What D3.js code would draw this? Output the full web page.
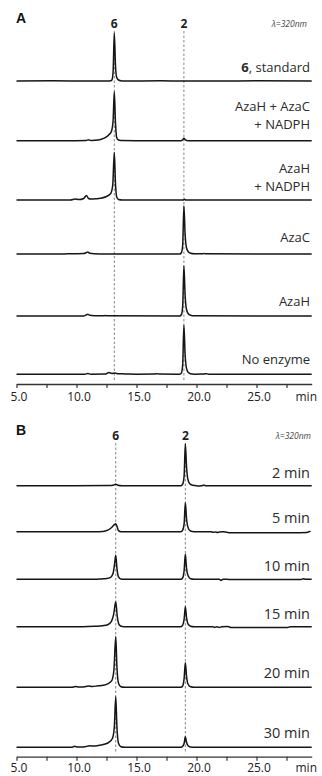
<!DOCTYPE html>
<html>
<head>
<meta charset="utf-8">
<script src="https://cdn.jsdelivr.net/npm/d3@7"></script>
<style>
  body { margin: 0; background: #fff; }
  svg { display: block; font-family: "Open Sans", sans-serif; }
</style>
</head>
<body>
<div id="chart"></div>
<script>
// Chromatogram data: [retention time (min), absorbance (a.u.)]

const xTicks = [5, 7.5, 10, 12.5, 15, 17.5, 20, 22.5, 25, 27.5];
const xTickLabels = ["5.0", "", "10.0", "", "15.0", "", "20.0", "", "25.0", ""];
const peakNames = ["6", "2"];
const peaksA = [13.15, 18.95];
const peaksB = [13.27, 19.07];

const labelsA = [["6, standard"], ["AzaH + AzaC", "+ NADPH"], ["AzaH", "+ NADPH"], ["AzaC"], ["AzaH"], ["No enzyme"]];
const labelsB = [["2 min"], ["5 min"], ["10 min"], ["15 min"], ["20 min"], ["30 min"]];

const standard6 = [[5,0],[8,0.3],[11,0],[12.6,0],[12.85,0.5],[12.95,2],[13.05,18],[13.15,96],[13.25,30],[13.35,7],[13.5,2],[13.7,0.6],[14,0],[17,0.3],[18.95,0],[22,0],[25,0.3],[29.6,0]];
const azaHazaCnadph = [[5,0],[9,0],[10.8,0.5],[11,1.8],[11.2,0.6],[11.5,1],[12,2.6],[12.4,6],[12.7,12],[12.9,18],[13.05,40],[13.15,98],[13.25,35],[13.35,6],[13.5,1.5],[13.8,0.3],[15,0],[18.7,0],[18.85,2],[18.95,5],[19.08,1.5],[19.3,0],[24,0],[29.6,0]];
const azaHnadph = [[5,0],[9.5,0],[9.9,2],[10.2,0.8],[10.6,3],[10.83,9],[11,3],[11.2,2],[11.6,2.5],[12,3.5],[12.5,7],[12.85,13],[13.02,30],[13.15,95],[13.25,32],[13.35,6],[13.5,1],[13.8,0],[18.9,0],[19,1.5],[19.1,0],[29.6,0]];
const azaC = [[5,0],[9,0],[9.5,0.6],[10.6,0.8],[10.8,2.5],[10.94,4],[11.1,1.5],[11.5,0.5],[12.5,0],[18.6,0],[18.75,3],[18.85,18],[18.95,96],[19.05,40],[19.15,14],[19.3,5],[19.5,1.5],[19.8,0.5],[20.5,0.5],[20.6,1.2],[20.75,0.4],[29.6,0]];
const azaH = [[5,0],[10.6,0],[10.8,2],[10.94,3.5],[11.1,1.5],[11.5,0.5],[12.2,0.3],[12.4,1],[12.6,0.3],[18.6,0],[18.75,3],[18.85,20],[18.95,100],[19.05,42],[19.15,15],[19.3,5],[19.5,1.5],[19.8,0.4],[29.6,0]];
const noEnzyme = [[5,0],[10.7,0],[10.94,1.5],[11.2,0.3],[12.4,0.5],[12.7,3.5],[12.95,1.8],[13.2,2.5],[13.5,1],[14,0.8],[15,0.3],[16.5,0.5],[16.7,1.3],[16.9,0.4],[18.6,0.3],[18.75,3],[18.85,20],[18.95,98],[19.05,40],[19.15,14],[19.3,4],[19.5,1.2],[19.8,0.3],[20.6,0.5],[20.8,1.3],[21,0.3],[29.6,0]];

const t2min = [[5,0],[9.8,0],[12.8,0.3],[13.1,1.5],[13.27,3],[13.45,1],[13.8,0],[18.7,0],[18.85,3],[18.97,20],[19.07,84],[19.17,38],[19.27,14],[19.4,5],[19.6,1.5],[19.9,0.2],[20.2,-0.6],[20.45,-0.3],[20.6,1.5],[20.75,-0.2],[21,0],[29.6,0]];
const t5min = [[5,0],[11.5,0],[12.2,0.5],[12.6,3],[12.95,9],[13.15,14],[13.27,16],[13.4,9],[13.5,2],[13.7,0],[18.7,0],[18.85,3],[18.97,16],[19.07,58],[19.17,26],[19.3,8],[19.5,1.5],[19.8,0],[21.2,0],[21.4,-1.2],[21.6,-0.5],[21.75,-1.5],[21.9,-0.8],[22.2,-0.3],[22.5,-1],[22.8,-2],[23.5,-2],[28,-2],[29.2,-1.5],[29.5,1]];
const t10min = [[5,0],[11.5,0],[12.1,0.8],[12.5,1.5],[12.85,4],[13.05,12],[13.17,30],[13.27,48],[13.37,22],[13.5,5],[13.7,0.5],[14,0],[18.7,0],[18.85,3],[18.97,18],[19.07,50],[19.17,22],[19.3,7],[19.5,1],[19.8,0],[21.9,0],[22.05,-2],[22.2,0],[22.5,0.3],[22.7,-0.5],[28.7,-0.5],[28.9,1],[29.1,0],[29.6,0]];
const t15min = [[5,0],[10.5,0],[11.5,0.8],[12.2,2],[12.6,4],[12.9,10],[13.1,25],[13.27,50],[13.4,20],[13.55,4],[13.8,0.5],[14.2,0],[18.7,0],[18.85,3],[18.97,15],[19.07,40],[19.17,18],[19.3,5],[19.5,1],[19.8,0],[21.4,0],[21.5,-1.5],[21.7,0],[21.9,-1.5],[22.1,-0.2],[22.6,0.3],[22.9,-1.5],[27.6,-1.5],[27.8,0],[29.6,0]];
const t20min = [[5,0],[9.6,0],[9.9,1.5],[10.2,0.5],[10.6,0.8],[11,2.5],[11.3,1.5],[11.8,3],[12.2,4],[12.6,7],[12.95,14],[13.12,35],[13.27,101],[13.37,40],[13.5,8],[13.7,1],[14,0],[18.7,0],[18.85,3],[18.97,18],[19.07,49],[19.17,22],[19.3,6],[19.5,1],[19.8,0],[29.6,0]];
const t30min = [[5,0],[9.6,0],[9.85,2],[10.1,0.5],[10.6,0.8],[11.1,3],[11.4,2.5],[11.9,4],[12.3,6],[12.7,10],[13,18],[13.15,40],[13.27,101],[13.37,40],[13.5,8],[13.7,1],[14,0],[18.7,0],[18.85,2],[18.97,8],[19.07,21],[19.17,10],[19.3,3],[19.5,0.5],[19.8,0],[29.6,0]];

const tracesA = [standard6, azaHazaCnadph, azaHnadph, azaC, azaH, noEnzyme];
const tracesB = [t2min, t5min, t10min, t15min, t20min, t30min];

// layout

const W = 322, H = 776;
const svg = d3.select("#chart").append("svg")
    .attr("width", W)
    .attr("height", H);

const x = d3.scaleLinear()
    .domain([5, 29.6])
    .range([16.5, 311.7]);

// intensity -> pixels above the trace baseline
const y = d3.scaleLinear()
    .domain([0, 100])
    .range([0, -50]);

const line = d3.line()
    .x(d => x(d[0]))
    .y(d => y(d[1]))
    .curve(d3.curveMonotoneX);

function drawPanel(p) {
    const g = svg.append("g");

    // panel letter
    g.append("text")
        .attr("x", 16).attr("y", p.top + 10)
        .attr("font-family", "Liberation Sans, Arial, sans-serif")
        .attr("font-weight", "bold")
        .attr("font-size", 14)
        .attr("fill", "#111")
        .text(p.letter);

    // wavelength note
    g.append("text")
        .attr("x", p.lambdaX).attr("y", p.top + 14)
        .attr("text-anchor", "end")
        .attr("font-style", "italic")
        .attr("font-size", 8.5)
        .attr("fill", "#444")
        .text("λ=320nm");

    // dashed guides at peak 6 and peak 2
    g.selectAll(".guide")
        .data(p.peaks)
        .join("line")
        .attr("x1", d => x(d)).attr("x2", d => x(d))
        .attr("y1", p.top + 18).attr("y2", p.axisY - 3)
        .attr("stroke", "#777")
        .attr("stroke-width", 0.9)
        .attr("stroke-dasharray", "2.5,2");

    g.selectAll(".peakname")
        .data(p.peaks)
        .join("text")
        .attr("x", d => x(d)).attr("y", p.top + 15)
        .attr("text-anchor", "middle")
        .attr("font-weight", "bold")
        .attr("font-size", 12)
        .attr("fill", "#222")
        .text((d, i) => peakNames[i]);

    // traces
    p.traces.forEach((tr, i) => {
        const base = p.baselines[i];
        g.append("path")
            .datum(tr)
            .attr("transform", `translate(0,${base})`)
            .attr("fill", "none")
            .attr("stroke", "#151515")
            .attr("stroke-width", 1.5)
            .attr("stroke-linejoin", "round")
            .attr("d", line);

        const lines = p.labels[i];
        const t = g.append("text")
            .attr("text-anchor", "end")
            .attr("font-size", p.labelSize)
            .attr("fill", "#2a2a2a");
        lines.forEach((s, j) => {
            const ty = base + p.labelOffsets[i] - (lines.length - 1 - j) * 18;
            const ts = t.append("tspan").attr("x", 310).attr("y", ty);
            if (s.startsWith("6,")) {
                ts.append("tspan").attr("font-weight", "bold").text("6");
                ts.append("tspan").text(s.slice(1));
            } else {
                ts.text(s);
            }
        });
    });

    // x axis
    const ax = g.append("g")
        .attr("transform", `translate(0,${p.axisY})`)
        .call(d3.axisBottom(x)
            .tickValues(xTicks)
            .tickFormat((d, i) => xTickLabels[i])
            .tickSize(4)
            .tickSizeOuter(0)
            .tickPadding(p.tickPad));
    ax.select(".domain").attr("stroke", "#333").attr("stroke-width", 1.3);
    ax.selectAll(".tick line").attr("stroke", "#333").attr("stroke-width", 1.2);
    ax.selectAll(".tick text")
        .attr("font-family", "Open Sans, sans-serif")
        .attr("font-size", 12)
        .attr("fill", "#222")
        .attr("dx", 2);

    g.append("text")
        .attr("x", 317).attr("y", p.axisY + 4 + p.tickPad + 8.5)
        .attr("text-anchor", "end")
        .attr("font-size", 12)
        .attr("fill", "#222")
        .text("min");
}

drawPanel({
    letter: "A",
    top: 13,
    lambdaX: 307,
    peaks: peaksA,
    traces: tracesA,
    labels: labelsA,
    baselines: [81, 140.7, 200, 254, 316, 374.3],
    labelOffsets: [-9, -12, -9, -12, -10, -10],
    labelSize: 13,
    axisY: 384,
    tickPad: 4
});

drawPanel({
    letter: "B",
    top: 425,
    lambdaX: 311,
    peaks: peaksB,
    traces: tracesB,
    labels: labelsB,
    baselines: [485.7, 531.7, 579.3, 626.7, 687.3, 747.3],
    labelOffsets: [-8, -9, -8, -8, -9, -9],
    labelSize: 14.5,
    axisY: 756.7,
    tickPad: 2.5
});
</script>
</body>
</html>
